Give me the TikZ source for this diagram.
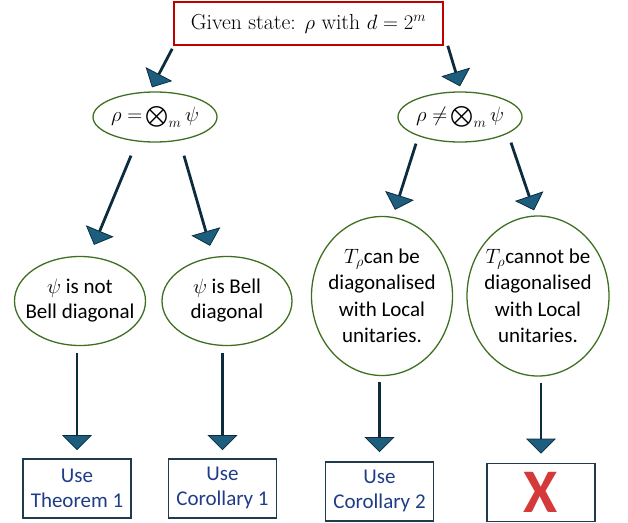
\documentclass[tikz,border=0pt]{standalone}
\usepackage{amsmath}
\usepackage{fontspec}
\newfontfamily\calibri{Carlito}
\usetikzlibrary{positioning, arrows.meta, shapes.geometric}

\definecolor{titlered}{HTML}{C00000}
\definecolor{ellgreen}{HTML}{3F7022}
\definecolor{boxdark}{HTML}{1F3B4D}
\definecolor{boxblue}{HTML}{1F3C88}
\definecolor{linedark}{HTML}{0C2C3E}
\definecolor{headblue}{HTML}{1D5E7F}
\definecolor{xred}{HTML}{D43A3A}

\begin{document}
\begin{tikzpicture}[
    x=1pt, y=-1pt,
    % Styles
    given/.style={draw=titlered, line width=1.6pt, minimum width=269pt, minimum height=43pt, inner sep=0pt, font=\fontsize{21.7}{26}\selectfont},
    branch/.style={ellipse, draw=ellgreen, line width=1.3pt, inner xsep=-10pt, inner ysep=0pt, align=center, font=\calibri\fontsize{21}{25}\selectfont},
    result/.style={draw=boxdark, line width=1.5pt, minimum width=108pt, minimum height=59pt, inner sep=0pt, align=center, text=boxblue, font=\calibri\fontsize{21}{25}\selectfont},
    arrow/.style={line width=2.8pt, linedark, -{Triangle[width=30pt, length=15pt, line width=0.8pt, fill=headblue]}},
]
\useasboundingbox (0,0) rectangle (628,522);

% Given state (absolute positioning for the top box)
\node[given] (title) at (308.5,23.5) {Given state: $\rho$ with $d=2^m$};

% First split
\node[branch, minimum width=124pt, minimum height=50pt] (e1) at (155,117) {$\rho\;{=}\bigotimes_m\psi$};
\node[branch, minimum width=124pt, minimum height=50pt] (e2) at (460,117) {$\rho\;{\neq}\bigotimes_m\psi$};
\draw[arrow] ([xshift=-1pt,yshift=-3pt]title.south west) -- ([xshift=-3pt,yshift=4pt]e1.north);
\draw[arrow] ([xshift=4pt]title.south east) -- ([yshift=5pt]e2.north);

% Product case
\node[branch, minimum width=131pt, minimum height=89pt] (n1) at (80,301) {$\psi$ is not\\Bell diagonal};
\node[branch, minimum width=130pt, minimum height=89pt] (n2) at (227,301) {$\psi$ is Bell\\diagonal};
\draw[arrow] ([xshift=-24pt,yshift=-13pt]e1.south) -- ([xshift=14pt,yshift=11pt]n1.north);
\draw[arrow] ([xshift=29pt,yshift=-13pt]e1.south) -- ([xshift=-17pt,yshift=10pt]n2.north);

% Non-product case
\node[branch, minimum width=141pt, minimum height=159pt, font=\calibri\fontsize{21}{26.5}\selectfont] (n3) at (382,296) {$T_{\rho}$can be\\diagonalised\\with Local\\unitaries.};
\node[branch, minimum width=142pt, minimum height=160pt, font=\calibri\fontsize{21}{26.5}\selectfont] (n4) at (538,296) {$T_{\rho}$cannot be\\diagonalised\\with Local\\unitaries.};
\draw[arrow] ([xshift=-44pt,yshift=-1pt]e2.south) -- ([xshift=13pt,yshift=6pt]n3.north);
\draw[arrow] ([xshift=51pt]e2.south) -- ([xshift=-4pt,yshift=5pt]n4.north);

% Results - positioned relative to the branch above
\node[result, below=112pt of n1, xshift=-3pt] (b1) {Use\\Theorem 1};
\node[result, below=112pt of n2, xshift=-4.5pt] (b2) {Use\\Corollary 1};
\node[result, below=85pt of n3, xshift=-2.5pt] (b3) {Use\\Corollary 2};
\node[result, below=86pt of n4, xshift=3pt, minimum height=58pt, text=xred, font=\calibri\bfseries\fontsize{62}{62}\selectfont] (b4) {X};

\draw[arrow, shorten <=7pt, shorten >=8pt] (n1.south -| b1.north) -- (b1.north);
\draw[arrow, shorten <=7pt, shorten >=8pt] (n2.south -| b2.north) -- (b2.north);
\draw[arrow, shorten <=6pt, shorten >=9pt] (n3.south -| b3.north) -- (b3.north);
\draw[arrow, shorten <=6pt, shorten >=9pt] (n4.south -| b4.north) -- (b4.north);

\end{tikzpicture}
\end{document}
